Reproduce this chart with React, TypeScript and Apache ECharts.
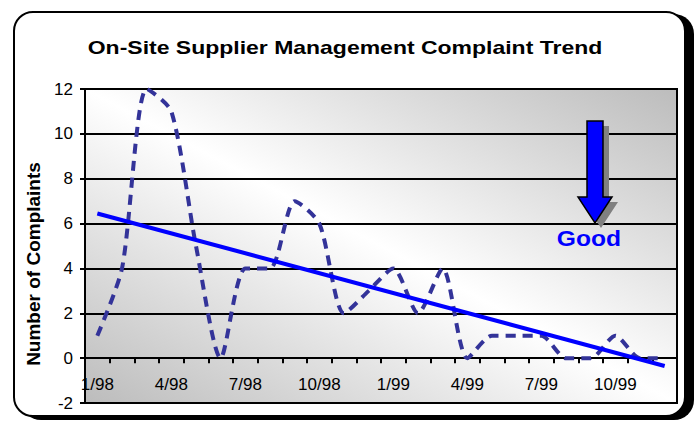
import React, { useEffect, useRef } from 'react';
import * as echarts from 'echarts';

const months = [
  '1/98', '2/98', '3/98', '4/98', '5/98', '6/98', '7/98', '8/98', '9/98', '10/98', '11/98', '12/98',
  '1/99', '2/99', '3/99', '4/99', '5/99', '6/99', '7/99', '8/99', '9/99', '10/99', '11/99', '12/99',
];
const complaints = [1, 4, 12, 11, 5, 0, 4, 4, 7, 6, 2, 3, 4, 2, 4, 0, 1, 1, 1, 0, 0, 1, 0, 0];
// Trend line end values (first and last month)
const trendEnds = [6.45, -0.35];
const yMin = -2;
const yMax = 12;
const yStep = 2;

const titleText = 'On-Site Supplier Management Complaint Trend';
const yTitle = 'Number of Complaints';
const noteText = 'Good';

const FONT = '"Liberation Sans", Arial, Helvetica, sans-serif';

export default function App() {
  const ref = useRef<HTMLDivElement>(null);
  useEffect(() => {
    const chart = echarts.init(ref.current as HTMLDivElement, null, { renderer: 'svg', width: 696, height: 421 });
    const arrow = [[587, 121], [603, 121], [603, 197], [612, 197], [595, 223], [578, 197], [587, 197]];
    const shadow = arrow.map(([x, y]) => [x + 6, y + 5]);
    chart.setOption({
      animation: false,
      textStyle: { fontFamily: FONT },
      grid: {
        left: 85, right: 19, top: 89, bottom: 18, containLabel: false,
        outerBoundsMode: 'none',
        show: true, borderColor: '#000', borderWidth: 2,
        backgroundColor: {
          type: 'linear', x: 0, y: 1, x2: 1, y2: 0,
          colorStops: [
            { offset: 0, color: '#bcbcbc' },
            { offset: 0.5, color: '#ffffff' },
            { offset: 1, color: '#bcbcbc' },
          ],
        },
      },
      xAxis: {
        type: 'category',
        data: months,
        boundaryGap: true,
        axisLine: { show: true, onZero: true, lineStyle: { color: '#000', width: 2 } },
        axisTick: { show: true, interval: 0, length: 5, lineStyle: { color: '#000', width: 2 } },
        axisLabel: { interval: 2, margin: -27, fontSize: 17, color: '#000', fontFamily: FONT },
        splitLine: { show: false },
      },
      yAxis: {
        type: 'value',
        min: yMin, max: yMax, interval: yStep,
        axisLine: { show: true, lineStyle: { color: '#000', width: 2 } },
        axisTick: { show: true, length: 5, lineStyle: { color: '#000', width: 2 } },
        axisLabel: { margin: 12, fontSize: 17, color: '#000', fontFamily: FONT },
        splitLine: { show: true, lineStyle: { color: '#000', width: 2 } },
      },
      series: [
        {
          name: 'Complaints',
          type: 'line',
          data: complaints,
          smooth: 0.25,
          symbol: 'none',
          lineStyle: { color: '#333399', width: 4, type: [10, 7] },
          z: 3,
        },
        {
          name: 'Trend',
          type: 'line',
          data: [[0, trendEnds[0]], [months.length - 1, trendEnds[1]]],
          symbol: 'none',
          lineStyle: { color: '#0000ff', width: 4 },
          z: 4,
        },
      ],
      graphic: [
        {
          type: 'text', x: 345, y: 47, scaleX: 1.21,
          style: { text: titleText, font: `bold 19px ${FONT}`, align: 'center', verticalAlign: 'middle', fill: '#000' },
        },
        {
          type: 'text', x: 33, y: 264, rotation: Math.PI / 2,
          style: { text: yTitle, font: `bold 19px ${FONT}`, align: 'center', verticalAlign: 'middle', fill: '#000' },
        },
        { type: 'polygon', z: 20, shape: { points: shadow }, style: { fill: '#808080' } },
        { type: 'polygon', z: 21, shape: { points: arrow }, style: { fill: '#0000ff', stroke: '#000', lineWidth: 1.5 } },
        {
          type: 'text', x: 589, y: 238, scaleX: 1.12, z: 21,
          style: { text: noteText, font: `bold 22px ${FONT}`, align: 'center', verticalAlign: 'middle', fill: '#0000ff' },
        },
      ],
    });
    return () => chart.dispose();
  }, []);
  return (
    <div style={{ position: 'absolute', left: 0, top: 0, width: 696, height: 421, background: '#fff' }}>
      <div
        style={{
          position: 'absolute', left: 13, top: 11, width: 673, height: 406, boxSizing: 'border-box',
          border: '2px solid #000', borderRadius: 20, boxShadow: '8px 3px 0 #000', background: '#fff',
        }}
      />
      <div ref={ref} style={{ position: 'absolute', left: 0, top: 0, width: 696, height: 421 }} />
    </div>
  );
}
